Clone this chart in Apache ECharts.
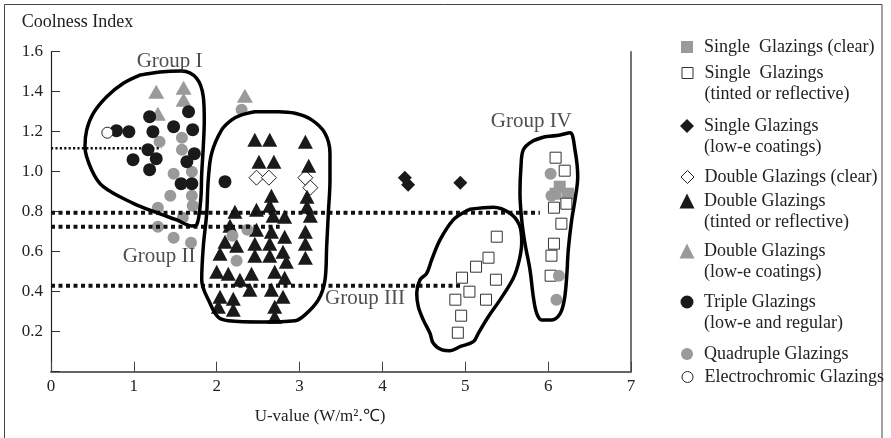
<!DOCTYPE html>
<html>
<head>
<meta charset="utf-8">
<script src="https://cdn.jsdelivr.net/npm/echarts@6/dist/echarts.min.js"></script>
<style>html,body{margin:0;padding:0;background:#fff}#c{width:891px;height:438px}</style>
</head>
<body>
<div id="c"></div>
<script>
const FONT = '"Liberation Serif","Times New Roman",serif';

const xTickLabels = ['0','1','2','3','4','5','6','7'];
const yTickLabels = ['', '0.2','0.4','0.6','0.8','1.0','1.2','1.4','1.6'];

const seriesNames = [
  'Single  Glazings (clear)',
  'Single  Glazings\n(tinted or reflective)',
  'Single Glazings\n(low-e coatings)',
  'Double Glazings (clear)',
  'Double Glazings\n(tinted or reflective)',
  'Double Glazings\n(low-e coatings)',
  'Triple Glazings\n(low-e and regular)',
  'Quadruple Glazings',
  'Electrochromic Glazings'
];

const singleClear = [[6.14,0.925],[6.09,0.89],[6.24,0.89]];
const singleTinted = [
  [5.38,0.675],[5.28,0.57],[5.13,0.525],[4.96,0.47],[5.37,0.46],[5.05,0.40],[4.88,0.36],[5.25,0.36],[4.95,0.28],[4.91,0.195],
  [6.09,1.07],[6.20,1.005],[6.07,0.82],[6.22,0.84],[6.16,0.74],[6.07,0.64],[6.04,0.58],[6.03,0.48]
];
const singleLowE = [[4.27,0.97],[4.31,0.935],[4.94,0.945]];
const doubleClear = [[2.48,0.97],[2.63,0.97],[3.07,0.97],[3.13,0.92]];
const doubleTinted = [
  [2.46,1.16],[2.64,1.16],[3.07,1.15],[2.51,1.05],[2.69,1.05],[3.11,1.03],
  [2.66,0.88],[3.09,0.875],[2.64,0.83],[3.09,0.825],[2.22,0.80],[2.48,0.81],
  [2.68,0.78],[2.82,0.775],[3.13,0.78],[2.16,0.73],[2.48,0.71],[2.66,0.70],
  [3.07,0.70],[2.10,0.65],[2.46,0.64],[2.64,0.64],[2.82,0.675],[2.24,0.63],
  [3.07,0.64],[2.04,0.59],[2.46,0.58],[2.64,0.58],[2.80,0.60],[2.84,0.55],
  [3.07,0.57],[2.00,0.50],[2.14,0.49],[2.28,0.46],[2.42,0.49],[2.70,0.50],
  [2.82,0.47],[2.40,0.41],[2.66,0.41],[2.04,0.375],[2.20,0.365],[2.80,0.375],
  [2.02,0.325],[2.20,0.31],[2.70,0.325],[2.70,0.275]
];
const doubleLowE = [[1.27,1.40],[1.60,1.42],[1.60,1.36],[1.29,1.29],[2.34,1.38]];
const tripleGl = [
  [0.79,1.205],[0.94,1.20],[1.19,1.275],[1.23,1.20],[1.48,1.225],[1.66,1.30],
  [1.71,1.21],[1.17,1.11],[0.99,1.06],[1.27,1.065],[1.19,1.01],[1.73,1.09],
  [1.64,1.05],[1.57,0.94],[1.70,0.94],[2.10,0.95]
];
const quadGl = [
  [1.31,1.15],[1.58,1.17],[1.58,1.11],[1.48,0.99],[1.70,1.00],[1.44,0.88],
  [1.70,0.88],[1.71,0.83],[1.29,0.82],[1.59,0.77],[1.29,0.725],[1.48,0.67],
  [1.69,0.645],[2.30,1.31],[2.19,0.68],[2.37,0.71],[2.24,0.555],
  [6.03,0.99],[6.04,0.88],[6.13,0.48],[6.10,0.36]
];
const electroGl = [[0.68,1.195]];

const groupIOutline = [
  [1.074,1.483],[1.315,1.499],[1.577,1.504],[1.758,1.467],[1.838,1.375],[1.850,1.259],
  [1.838,1.125],[1.819,0.992],[1.807,0.859],[1.758,0.734],[1.698,0.729],[1.517,0.759],
  [1.315,0.789],[0.993,0.842],[0.631,0.925],[0.491,1.009],[0.410,1.125],[0.431,1.209],
  [0.510,1.292],[0.672,1.375],[0.873,1.442],[1.074,1.483]
];
const groupIIOutline = [
  [2.462,1.300],[2.743,1.300],[2.945,1.292],[3.146,1.259],[3.307,1.192],[3.367,1.092],
  [3.367,0.959],[3.347,0.792],[3.327,0.625],[3.307,0.459],[3.226,0.359],[3.065,0.284],
  [2.945,0.255],[2.543,0.249],[2.140,0.255],[2.019,0.272],[1.919,0.342],[1.819,0.459],
  [1.838,0.625],[1.879,0.792],[1.898,0.959],[1.939,1.092],[2.060,1.209],[2.181,1.259],
  [2.301,1.284],[2.462,1.300]
];
const groupIIIOutline = [
  [5.057,0.812],[5.338,0.822],[5.539,0.792],[5.652,0.734],[5.681,0.650],[5.652,0.559],
  [5.579,0.467],[5.419,0.359],[5.278,0.275],[5.157,0.192],[5.097,0.150],[4.936,0.125],
  [4.815,0.105],[4.719,0.109],[4.614,0.142],[4.574,0.192],[4.493,0.259],[4.433,0.325],
  [4.414,0.392],[4.453,0.459],[4.534,0.492],[4.594,0.559],[4.695,0.659],[4.855,0.759],
  [5.017,0.805],[5.057,0.812]
];
const groupIVOutline = [
  [5.962,1.175],[6.143,1.184],[6.264,1.195],[6.324,1.109],[6.357,0.975],[6.324,0.859],
  [6.284,0.759],[6.243,0.609],[6.224,0.475],[6.195,0.359],[6.143,0.289],[6.043,0.259],
  [5.922,0.259],[5.862,0.292],[5.821,0.375],[5.781,0.509],[5.720,0.642],[5.681,0.759],
  [5.660,0.892],[5.672,1.025],[5.700,1.109],[5.801,1.150],[5.962,1.175]
];

const refLineA = [[0,1.117],[1.33,1.117]];
const refLineB = [[0,0.795],[5.9,0.795]];
const refLineC = [[0,0.725],[2.76,0.725]];
const refLineD = [[0,0.43],[4.94,0.43]];

const groupLabels = ['Group I','Group II','Group III','Group IV'];
const groupLabelPos = [[1.034,1.549],[0.865,0.575],[3.307,0.367],[5.307,1.249]];

const legendCenters = [47, 73, 126, 177, 201, 251, 302, 354, 377];

const styles = [
  {symbol:'rect', size:12, lsize:12, color:'#9a9a9a', border:'#9a9a9a', bw:0},
  {symbol:'rect', size:11, lsize:11, color:'#ffffff', border:'#333', bw:1},
  {symbol:'diamond', size:14, lsize:14, color:'#1a1a1a', border:'#1a1a1a', bw:0},
  {symbol:'diamond', size:15, lsize:13, color:'#ffffff', border:'#222', bw:1},
  {symbol:'triangle', size:[15,14], lsize:15, color:'#1a1a1a', border:'#1a1a1a', bw:0},
  {symbol:'triangle', size:[16,14], lsize:15, color:'#9a9a9a', border:'#9a9a9a', bw:0},
  {symbol:'circle', size:13, lsize:13, color:'#1a1a1a', border:'#1a1a1a', bw:0},
  {symbol:'circle', size:12, lsize:12, color:'#9a9a9a', border:'#9a9a9a', bw:0},
  {symbol:'circle', size:11, lsize:11, color:'#ffffff', border:'#222', bw:1}
];
const datasets = [singleClear, singleTinted, singleLowE, doubleClear, doubleTinted, doubleLowE, tripleGl, quadGl, electroGl];

const series = [];
const zOrder = [2,2,2,2,2,2,3,2,3];
datasets.forEach((d, i) => {
  const st = styles[i];
  series.push({
    name: seriesNames[i], type:'scatter', data: d, symbol: st.symbol, symbolSize: st.size,
    z: zOrder[i],
    itemStyle:{color: st.color, borderColor: st.border, borderWidth: st.bw, opacity:1},
    emphasis:{disabled:true}
  });
});

[refLineA, refLineB, refLineC, refLineD].forEach((d, i) => {
  const thin = i === 0;
  series.push({
    type:'line', data:d, symbol:'none', silent:true, z:5,
    lineStyle:{color:'#111', width: thin ? 2.5 : 4, type: thin ? [2.2,2.2] : [4,3.5], cap:'butt'}
  });
});

[groupIOutline, groupIIOutline, groupIIIOutline, groupIVOutline].forEach(d => {
  series.push({
    type:'line', data:d, symbol:'none', silent:true, smooth:0.35, z:6,
    lineStyle:{color:'#000', width:3.5, join:'round', cap:'round'}
  });
});

series.push({
  type:'scatter', symbolSize:0, silent:true, z:7,
  data: groupLabels.map((n, i) => ({name:n, value:groupLabelPos[i]})),
  label:{show:true, position:[0,0], align:'left', verticalAlign:'middle',
    formatter: p => p.name, fontFamily: FONT, fontSize:21, color:'#222'}
});

const legends = seriesNames.map((n, i) => {
  const st = styles[i];
  const s = st.lsize;
  const two = n.indexOf('\n') >= 0;
  return {
    data:[{name:n, icon: st.symbol}], orient:'vertical', selectedMode:false,
    left: 687 - s/2, top: legendCenters[i] - (two ? 31.5 : 10.5), padding:0,
    itemWidth:s, itemHeight:s, itemGap:0,
    formatter: two ? (nm => '\u00a0\n' + nm) : (nm => nm),
    itemStyle:{color: st.color, borderColor: st.border, borderWidth: st.bw},
    textStyle:{fontFamily: FONT, fontSize:18, color:'#222', lineHeight:21,
      padding:[0, 0, 0, 12 - s/2]}
  };
});

const chart = echarts.init(document.getElementById('c'), null, {renderer:'canvas'});
chart.setOption({
  animation:false,
  backgroundColor:'#fff',
  grid:{left:51, right:260, top:51.7, bottom:66.3, containLabel:false, outerBoundsMode:'none'},
  legend: legends,
  graphic:[{type:'rect', shape:{x:4.5, y:4.5, width:877.5, height:440}, style:{fill:'none', stroke:'#444', lineWidth:1}, silent:true}],
  xAxis:{
    type:'value', min:0, max:7, interval:1,
    name:'U-value (W/m².℃)', nameLocation:'middle', nameGap:36,
    nameTextStyle:{fontFamily:FONT, fontSize:17, color:'#222', padding:[0,42,0,0]},
    axisLine:{show:true, lineStyle:{color:'#666', width:2}},
    axisTick:{show:true, inside:true, length:10, lineStyle:{color:'#444', width:1}},
    axisLabel:{fontFamily:FONT, fontSize:17, color:'#222', margin:6, formatter:(v)=>xTickLabels[Math.round(v)]},
    splitLine:{show:false}
  },
  yAxis:[{
    type:'value', min:0, max:1.6, interval:0.2,
    name:'Coolness Index', nameLocation:'end', nameGap:20,
    nameTextStyle:{fontFamily:FONT, fontSize:18, color:'#222', align:'center', lineHeight:18, padding:[0,0,0,53]},
    axisLine:{show:true, lineStyle:{color:'#222', width:1.2}},
    axisTick:{show:true, inside:true, length:9, lineStyle:{color:'#333', width:1}},
    axisLabel:{fontFamily:FONT, fontSize:17, color:'#222', margin:8, formatter:(v)=>yTickLabels[Math.round(v*5)]},
    splitLine:{show:false}
  },{
    type:'value', min:0, max:1.6, interval:0.2, position:'right',
    axisLine:{show:true, lineStyle:{color:'#444', width:1.5}},
    axisTick:{show:false}, axisLabel:{show:false}, splitLine:{show:false}
  }],
  series: series
});
</script>
</body>
</html>
